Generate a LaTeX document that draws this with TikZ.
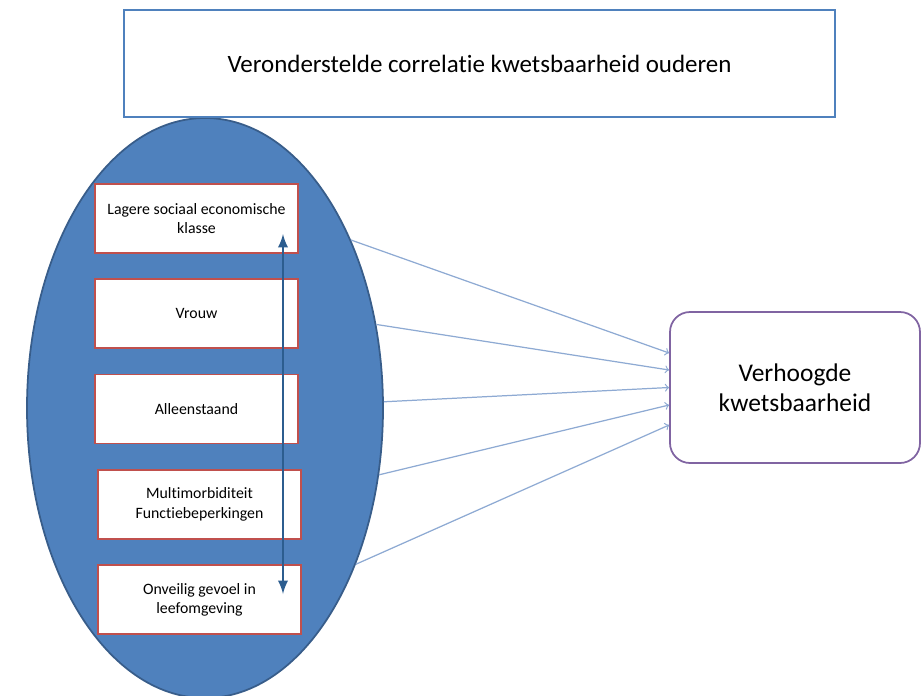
\documentclass[tikz,border=0pt]{standalone}
\usepackage{fontspec}
\setmainfont{Carlito}[Ligatures=CommonOff]
\usetikzlibrary{
  shapes.geometric,
  positioning,
  arrows
}

\definecolor{ovalblue}{HTML}{4F81BD}
\definecolor{ovalline}{HTML}{385D8A}
\definecolor{boxred}{HTML}{C0504D}
\definecolor{titleblue}{HTML}{4F81BD}
\definecolor{targetpurple}{HTML}{8064A2}
\definecolor{linkblue}{HTML}{8EAAD3}
\definecolor{darkarrow}{HTML}{2C5D8F}

\tikzset{
  factor/.style = {rectangle, draw=boxred, line width=1pt, fill=white,
    minimum width=4.06cm, minimum height=1.38cm, inner sep=0pt,
    align=center, font=\fontsize{9}{11}\selectfont},
  link/.style = {->, draw=linkblue, line width=0.7pt}
}

\begin{document}
\begin{tikzpicture}[node distance = 0.49cm]
    \useasboundingbox (0,0) rectangle (18.44,-13.9);

    \node[ellipse, fill=ovalblue, draw=ovalline, line width=1pt, minimum width=7.12cm, minimum height=11.6cm, inner sep=0pt] (oval) at (4.1,-8.16) {};
    \node[rectangle, draw=titleblue, line width=1pt, fill=white, minimum width=14.22cm, minimum height=2.14cm, font=\fontsize{14.2}{17}\selectfont] (title) at (9.59,-1.27) {Veronderstelde correlatie kwetsbaarheid ouderen};

    \node[factor] (klasse) at (3.93,-4.37) {Lagere sociaal economische\\klasse};
    \node[factor, below = of klasse] (vrouw) {Vrouw};
    \node[factor, below = of vrouw] (alleen) {Alleenstaand};
    \node[factor, below = of alleen, xshift=0.06cm] (morbi) {Multimorbiditeit\\Functiebeperkingen};
    \node[factor, below = of morbi] (onveilig) {Onveilig gevoel in\\leefomgeving};

    \node[rectangle, rounded corners=0.4cm, draw=targetpurple, line width=1pt, fill=white, minimum width=5cm, minimum height=3.02cm, align=center, font=\fontsize{14.5}{17}\selectfont] (kwets) at (15.9,-7.75) {Verhoogde\\kwetsbaarheid};

    \coordinate (up) at (5.66,-4.68);
    \coordinate (down) at (5.66,-11.88);
    \draw[<->, >=latex, darkarrow, line width=1.6pt] (up) -- (down);

    \draw[link] (oval.49.5) -- ([yshift=0.69cm]kwets.west);
    \draw[link] (oval.26.3) -- ([yshift=0.35cm]kwets.west);
    \draw[link] (oval.2.6) -- (kwets.west);
    \draw[link] (oval.-21.5) -- ([yshift=-0.35cm]kwets.west);
    \draw[link] (oval.-46.3) -- ([yshift=-0.75cm]kwets.west);
\end{tikzpicture}
\end{document}
